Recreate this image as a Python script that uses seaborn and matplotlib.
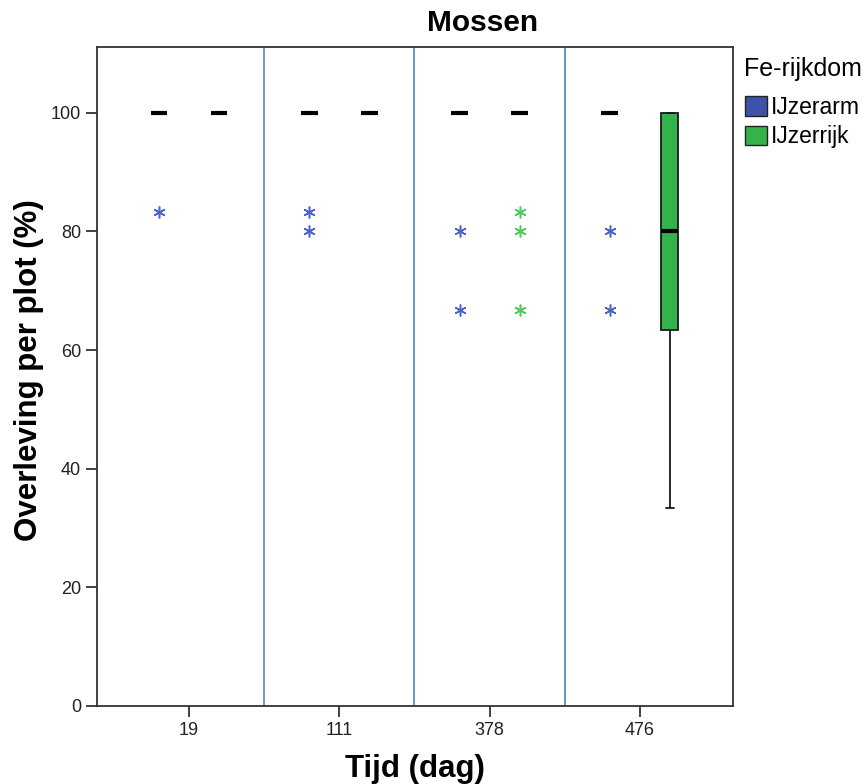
import pandas as pd
import matplotlib.pyplot as plt
import seaborn as sns
from matplotlib.patches import Patch

# Categories
tijd = ['19', '111', '378', '476']
fe_levels = ['IJzerarm', 'IJzerrijk']

# Overleving per plot (%), 15 plots per groep
arm_19 = [100, 100, 100, 100, 100, 100, 100, 100, 100, 100, 100, 100, 100, 100, 83.3]
rijk_19 = [100, 100, 100, 100, 100, 100, 100, 100, 100, 100, 100, 100, 100, 100, 100]
arm_111 = [100, 100, 100, 100, 100, 100, 100, 100, 100, 100, 100, 100, 100, 83.3, 80]
rijk_111 = [100, 100, 100, 100, 100, 100, 100, 100, 100, 100, 100, 100, 100, 100, 100]
arm_378 = [100, 100, 100, 100, 100, 100, 100, 100, 100, 100, 100, 100, 100, 80, 66.7]
rijk_378 = [100, 100, 100, 100, 100, 100, 100, 100, 100, 100, 100, 100, 83.3, 80, 66.7]
arm_476 = [100, 100, 100, 100, 100, 100, 100, 100, 100, 100, 100, 100, 100, 80, 66.7]
rijk_476 = [33.3, 50, 60, 60, 66.7, 66.7, 80, 80, 80, 100, 100, 100, 100, 100, 100]

groups = {
    ('19', 'IJzerarm'): arm_19, ('19', 'IJzerrijk'): rijk_19,
    ('111', 'IJzerarm'): arm_111, ('111', 'IJzerrijk'): rijk_111,
    ('378', 'IJzerarm'): arm_378, ('378', 'IJzerrijk'): rijk_378,
    ('476', 'IJzerarm'): arm_476, ('476', 'IJzerrijk'): rijk_476,
}
rows = []
for (t, fe), vals in groups.items():
    for v in vals:
        rows.append({'tijd': t, 'fe': fe, 'overleving': v})
df = pd.DataFrame(rows)

box_colors = {'IJzerarm': '#3d52a9', 'IJzerrijk': '#33b34a'}
flier_colors = {'IJzerarm': '#4c62c4', 'IJzerrijk': '#4fc95c'}

sns.set_style('ticks')
plt.rcParams['font.family'] = ['Liberation Sans', 'DejaVu Sans']
plt.rcParams['text.color'] = 'black'
plt.rcParams['axes.labelcolor'] = 'black'

fig, ax = plt.subplots(figsize=(8.68, 7.84), dpi=100)
fig.subplots_adjust(left=0.1118, right=0.8445, bottom=0.0995, top=0.940)

# blue separators between time points
for xs in [0.5, 1.5, 2.5]:
    ax.axvline(xs, color='#4a86c8', lw=1.2, zorder=0)

# one call per hue level so the outlier stars can take the group colour
for fe in fe_levels:
    sns.boxplot(data=df[df['fe'] == fe], x='tijd', y='overleving', hue='fe',
                order=tijd, hue_order=fe_levels, palette=box_colors,
                dodge=True, width=0.8, gap=0.72, saturation=1,
                linecolor='#1a1a1a', linewidth=1.3,
                flierprops=dict(marker=(6, 2, 0), markersize=8.5,
                                markeredgewidth=1.1,
                                markeredgecolor=flier_colors[fe],
                                markerfacecolor='none'),
                medianprops=dict(color='black', linewidth=3),
                legend=False, ax=ax)

ax.set_xlim(-0.612, 3.62)
ax.set_ylim(0, 111.1)
ax.set_yticks([0, 20, 40, 60, 80, 100])
for sp in ax.spines.values():
    sp.set_visible(True)
    sp.set_color('#333333')
    sp.set_linewidth(1.3)
ax.tick_params(length=8, width=1.3, color='#333333', labelsize=13, labelcolor='#222222')

ax.set_xlabel('Tijd (dag)', fontsize=22.5, fontweight='bold', labelpad=11)
ax.set_ylabel('Overleving per plot (%)', fontsize=22.5, fontweight='bold')
ax.yaxis.set_label_coords(-0.084, 0.51)
fig.text(0.556, 0.971, 'Mossen', ha='center', va='center', fontsize=21.5, fontweight='bold')

# legend: title as its own text so the gap to the entries can be set
fig.text(744 / 868, 1 - 57 / 784, 'Fe-rijkdom', ha='left', va='top', fontsize=18)
handles = [Patch(facecolor=box_colors[fe], edgecolor='#222222', lw=1) for fe in fe_levels]
fig.legend(handles, fe_levels, loc='upper left',
           bbox_to_anchor=(745 / 868, 1 - 96 / 784), frameon=False,
           fontsize=16.5, handlelength=0.95, handleheight=0.95,
           handletextpad=0.2, labelspacing=0.28, borderpad=0, borderaxespad=0)

fig.savefig('out.png', dpi=100)
